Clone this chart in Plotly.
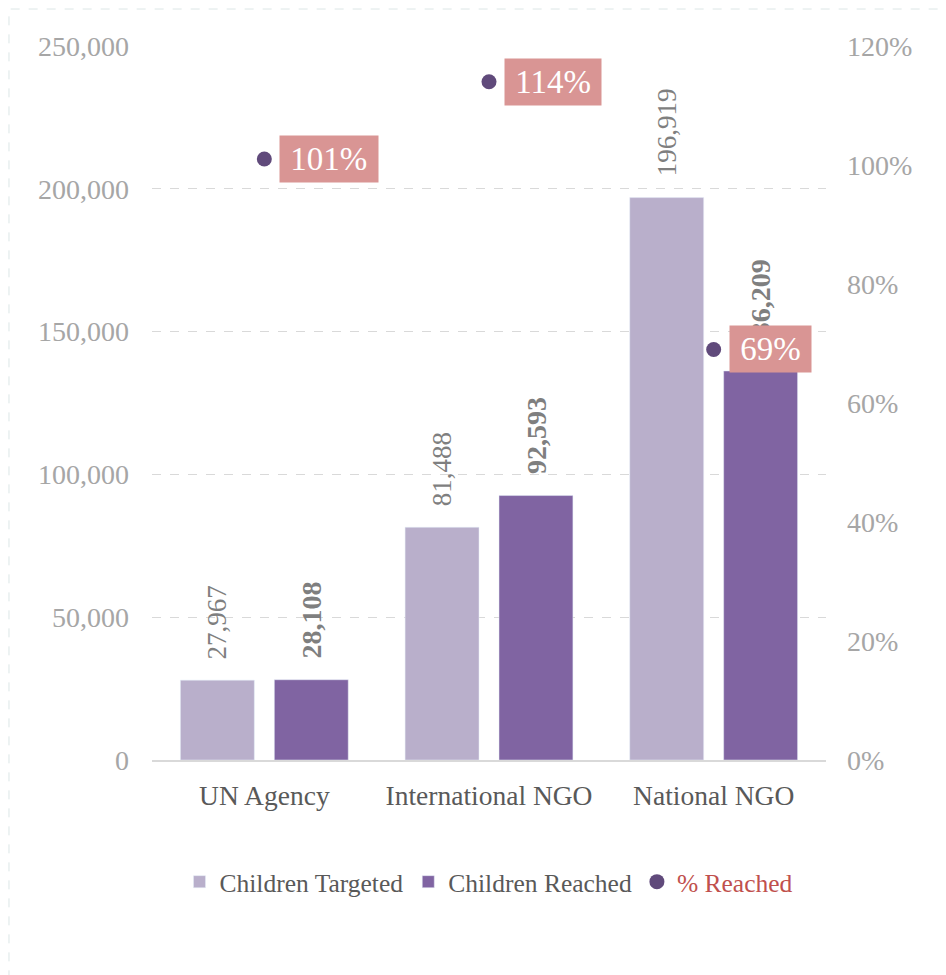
import plotly.graph_objects as go

categories = ["UN Agency", "International NGO", "National NGO"]
targeted = [27967, 81488, 196919]
reached = [28108, 92593, 136209]
pct_reached = [1.01, 1.14, 0.69]
pct_labels = ["101%", "114%", "69%"]

FONT = "Liberation Serif"
LABEL_GAP = 19      # px between bar top and its rotated label
BAR_OFFSET = 47     # px from category centre to bar centre

fig = go.Figure()
fig.add_trace(go.Bar(x=categories, y=targeted, name="Children Targeted",
                     marker_color="#B9AFCB"))
fig.add_trace(go.Bar(x=categories, y=reached, name="Children Reached",
                     marker_color="#8064A2"))
fig.add_trace(go.Scatter(
    x=categories, y=pct_reached, name="<span style='color:#C0504D'>% Reached</span>",
    mode="markers", marker=dict(size=15, color="#604A7B"), yaxis="y2", cliponaxis=False,
))

# rotated value labels above the bars
for c, v in zip(categories, targeted):
    fig.add_annotation(x=c, y=v, xref="x", yref="y", text=f"{v:,}", showarrow=False,
                       textangle=-90, xanchor="center", yanchor="bottom",
                       xshift=-BAR_OFFSET, yshift=LABEL_GAP,
                       font=dict(family=FONT, size=27, color="#7F7F7F"))
for c, v in zip(categories, reached):
    fig.add_annotation(x=c, y=v, xref="x", yref="y", text=f"<b>{v:,}</b>", showarrow=False,
                       textangle=-90, xanchor="center", yanchor="bottom",
                       xshift=BAR_OFFSET, yshift=LABEL_GAP,
                       font=dict(family=FONT, size=28, color="#7F7F7F"))

# percentage call-outs
for c, v, lab in zip(categories, pct_reached, pct_labels):
    fig.add_annotation(
        x=c, y=v, xref="x", yref="y2", text=f"&nbsp;{lab}&nbsp;", showarrow=False,
        xanchor="left", yanchor="middle", xshift=15,
        bgcolor="#D99594", borderpad=2, height=42, valign="middle",
        font=dict(family=FONT, size=33, color="white"),
    )

# dashed outer frame
fig.add_shape(type="rect", xref="paper", yref="paper",
              x0=-0.2122, x1=1.1736, y0=-0.33, y1=1.0518,
              line=dict(color="#DCE6E6", width=1, dash="dash"), layer="below")

fig.update_layout(
    width=938, height=967,
    margin=dict(l=144, r=120, t=38, b=215),
    paper_bgcolor="white", plot_bgcolor="white",
    barmode="group", bargap=0.164, bargroupgap=0.213,
    font=dict(family=FONT, size=26, color="#595959"),
    showlegend=True,
    legend=dict(orientation="h", x=0.5, xanchor="center", y=-0.171, yanchor="middle",
                font=dict(family=FONT, size=25.5, color="#595959"),
                itemwidth=30, traceorder="normal"),
    xaxis=dict(showgrid=False, showline=True, linecolor="#D9D9D9", linewidth=1.5,
               ticks="", tickfont=dict(family=FONT, size=27.5, color="#595959"),
               ticklabelstandoff=10),
    yaxis=dict(range=[0, 250000], dtick=50000, tickformat=",",
               showgrid=True, gridcolor="#D9D9D9", griddash="dash", gridwidth=1,
               zeroline=False, showline=False, ticks="",
               tickfont=dict(family=FONT, size=28, color="#A6A6A6"),
               ticklabelstandoff=22),
    yaxis2=dict(range=[0, 1.2], dtick=0.2, tickformat=".0%", overlaying="y", side="right",
                showgrid=False, zeroline=False, showline=False, ticks="",
                tickfont=dict(family=FONT, size=28, color="#A6A6A6"),
                ticklabelstandoff=20),
)

fig.write_html("out.html")
